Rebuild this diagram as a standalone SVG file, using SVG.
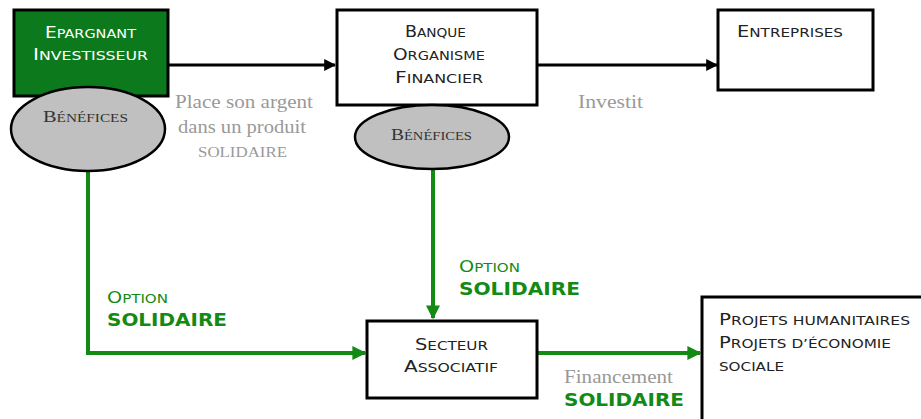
<svg xmlns="http://www.w3.org/2000/svg" width="921" height="419" viewBox="0 0 921 419">
<defs>
<style>
.box{fill:#fff;stroke:#000;stroke-width:3}
.ell{fill:#c0c0c0;stroke:#000;stroke-width:2.5}
.sc{font-family:"DejaVu Sans",Verdana,sans-serif;font-size:16px;fill:#222}
.s{font-size:12.5px}
.ser{font-family:"Liberation Serif","Times New Roman",serif;fill:#999;font-size:18px}
.bsc{font-family:"Liberation Serif","Times New Roman",serif;font-size:16px;fill:#333}
.bs{font-size:12px}
.gsc{font-family:"DejaVu Sans",Verdana,sans-serif;font-size:16px;fill:#138a13}
.gb{font-family:"DejaVu Sans",Verdana,sans-serif;font-size:17.5px;font-weight:bold;fill:#138a13}
.bl{stroke:#000;stroke-width:3;fill:none}
.gl{stroke:#138a13;stroke-width:4;fill:none}
</style>
<marker id="ab" viewBox="0 0 10 10" refX="9" refY="5" markerWidth="4" markerHeight="4" markerUnits="strokeWidth" orient="auto"><path d="M0,0L10,5L0,10z" fill="#000"/></marker>
<marker id="ag" viewBox="0 0 10 10" refX="9" refY="5" markerWidth="3.5" markerHeight="3.5" markerUnits="strokeWidth" orient="auto"><path d="M0,0L10,5L0,10z" fill="#138a13"/></marker>
</defs>
<g id="connectors">
<line class="bl" x1="168" y1="65" x2="335" y2="65" marker-end="url(#ab)"/>
<line class="bl" x1="537" y1="65" x2="717" y2="65" marker-end="url(#ab)"/>
<polyline class="gl" points="88,166 88,353 365,353" marker-end="url(#ag)"/>
<line class="gl" x1="433" y1="170" x2="433" y2="318" marker-end="url(#ag)"/>
<line class="gl" x1="537" y1="353" x2="700" y2="353" marker-end="url(#ag)"/>
<text class="ser" x="175" y="108" textLength="138" lengthAdjust="spacingAndGlyphs">Place son argent</text>
<text class="ser" x="178" y="133" textLength="128" lengthAdjust="spacingAndGlyphs">dans un produit</text>
<text class="ser" x="198" y="157" textLength="89" lengthAdjust="spacingAndGlyphs" style="font-size:15px">SOLIDAIRE</text>
<text class="ser" x="578" y="108" textLength="65" lengthAdjust="spacingAndGlyphs">Investit</text>
<text class="gsc" x="107" y="303" textLength="61" lengthAdjust="spacingAndGlyphs">O<tspan class="s">PTION</tspan></text>
<text class="gb" x="107" y="326" textLength="120" lengthAdjust="spacingAndGlyphs">SOLIDAIRE</text>
<text class="gsc" x="459" y="272" textLength="61" lengthAdjust="spacingAndGlyphs">O<tspan class="s">PTION</tspan></text>
<text class="gb" x="459" y="295" textLength="121" lengthAdjust="spacingAndGlyphs">SOLIDAIRE</text>
<text class="ser" x="564" y="383" textLength="109" lengthAdjust="spacingAndGlyphs">Financement</text>
<text class="gb" x="564" y="406" textLength="120" lengthAdjust="spacingAndGlyphs">SOLIDAIRE</text>
</g>
<g id="epargnant">
<rect x="14" y="10" width="154" height="86" fill="#0c7a1c" stroke="#000" stroke-width="3"/>
<text class="sc" x="45" y="38" textLength="91" lengthAdjust="spacingAndGlyphs" style="fill:#fff">E<tspan class="s">PARGNANT</tspan></text>
<text class="sc" x="33" y="60" textLength="115" lengthAdjust="spacingAndGlyphs" style="fill:#fff">I<tspan class="s">NVESTISSEUR</tspan></text>
</g>
<g id="benefices1">
<ellipse class="ell" cx="88" cy="129" rx="77" ry="42"/>
<text class="bsc" x="43" y="122" textLength="85" lengthAdjust="spacingAndGlyphs">B<tspan class="bs">ÉNÉFICES</tspan></text>
</g>
<g id="banque">
<rect class="box" x="337" y="10" width="200" height="95"/>
<text class="sc" x="405" y="37" textLength="61" lengthAdjust="spacingAndGlyphs">B<tspan class="s">ANQUE</tspan></text>
<text class="sc" x="393" y="60" textLength="92" lengthAdjust="spacingAndGlyphs">O<tspan class="s">RGANISME</tspan></text>
<text class="sc" x="395" y="83" textLength="88" lengthAdjust="spacingAndGlyphs">F<tspan class="s">INANCIER</tspan></text>
</g>
<g id="benefices2">
<ellipse class="ell" cx="432" cy="137" rx="77" ry="32"/>
<text class="bsc" x="391" y="140" textLength="81" lengthAdjust="spacingAndGlyphs">B<tspan class="bs">ÉNÉFICES</tspan></text>
</g>
<g id="entreprises">
<rect class="box" x="718" y="10" width="155" height="80"/>
<text class="sc" x="737" y="37" textLength="106" lengthAdjust="spacingAndGlyphs">E<tspan class="s">NTREPRISES</tspan></text>
</g>
<g id="secteur">
<rect class="box" x="367" y="321" width="170" height="77"/>
<text class="sc" x="415" y="350" textLength="73" lengthAdjust="spacingAndGlyphs">S<tspan class="s">ECTEUR</tspan></text>
<text class="sc" x="404" y="372" textLength="94" lengthAdjust="spacingAndGlyphs">A<tspan class="s">SSOCIATIF</tspan></text>
</g>
<g id="projets">
<rect class="box" x="702" y="297" width="230" height="140"/>
<text class="sc" x="719" y="325" textLength="191" lengthAdjust="spacingAndGlyphs">P<tspan class="s">ROJETS HUMANITAIRES</tspan></text>
<text class="sc" x="719" y="348" textLength="172" lengthAdjust="spacingAndGlyphs">P<tspan class="s">ROJETS D’ÉCONOMIE</tspan></text>
<text class="sc" x="719" y="371" textLength="65" lengthAdjust="spacingAndGlyphs"><tspan class="s">SOCIALE</tspan></text>
</g>
</svg>
